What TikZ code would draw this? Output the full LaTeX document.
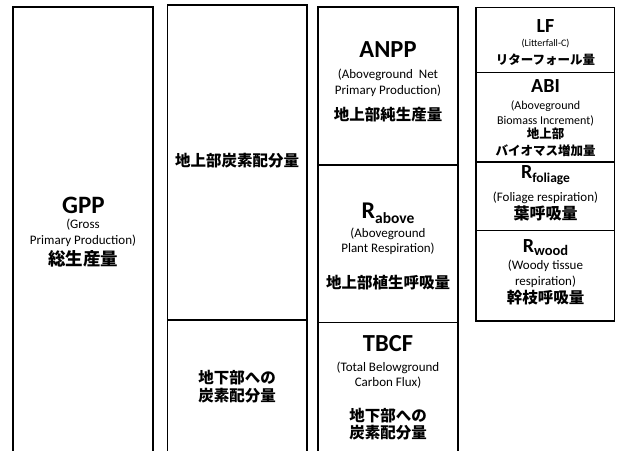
\documentclass[tikz,border=0pt]{standalone}
\usepackage{fontspec}
\setmainfont{Carlito}
\newfontfamily\jp{Noto Sans CJK JP}
\tikzset{
  boxline/.style={line width=1.7pt, draw=black},
  ttl/.style={font=\fontsize{#1}{#1}\selectfont\bfseries, inner sep=0pt, anchor=base},
  eng/.style={font=\fontsize{#1}{15.5}\selectfont, align=center, inner sep=0pt},
  jap/.style={font=\jp\bfseries\fontsize{#1}{17.5}\selectfont, align=center, inner sep=0pt},
}
\begin{document}
\begin{tikzpicture}[x=1pt,y=-1pt]
\useasboundingbox (0,0) rectangle (617,450);
% column 1
\draw[boxline] (12.7,452) |- (153,6.7) -- (153,452);
% column 2
\draw[boxline] (167.5,452) |- (307,4.7) -- (307,452);
\draw[boxline] (167.5,320) -- (307,320);
% column 3
\draw[boxline] (318,452) |- (458,6.7) -- (458,452);
\draw[boxline] (318,165) -- (458,165);
\draw[boxline] (318,322.5) -- (458,322.5);
% column 4
\draw[boxline] (476,7.5) rectangle (614.5,321);
\draw[boxline] (476,72.5) -- (614.5,72.5);
\draw[boxline] (476,162) -- (614.5,162);
\draw[boxline] (476,230.5) -- (614.5,230.5);

% column 1 text
\node[ttl=25] (gpp) at (83.5,213) {GPP};
\node[eng=13] (gppe) at (83,233) {(Gross\\Primary Production)};
\node[jap=17.5] (gppj) at (83,259) {総生産量};

% column 2 text
\node[jap=15.5] (abv) at (237,161) {地上部炭素配分量};
\node[jap=15.5] (blw) at (237,386.5) {地下部への\\炭素配分量};

% column 3 text
\node[ttl=24.5] (anpp) at (388,57.5) {ANPP};
\node[eng=13] (anppe) at (388,83) {(Aboveground\ \ Net\\Primary Production)};
\node[jap=15.5] (anppj) at (388,115) {地上部純生産量};

\node[ttl=24] (rab) at (388,218.5) {R\raisebox{-4.5pt}{\fontsize{15.5}{15.5}\selectfont above}};
\node[eng=13] (rabe) at (388,241.5) {(Aboveground\\Plant Respiration)};
\node[jap=15.5] (rabj) at (388,283) {地上部植生呼吸量};

\node[ttl=24.5] (tbcf) at (388,351.5) {TBCF};
\node[eng=13] (tbcfe) at (388,375) {(Total Belowground\\Carbon Flux)};
\node[jap=15.5] (tbcfj) at (388,424) {地下部への\\炭素配分量};

% column 4 text
\node[ttl=20] (lf) at (545.5,32) {LF};
\node[eng=10] (lfe) at (545.5,43.5) {(Litterfall-C)};
\node[jap=12.5] (lfj) at (545.5,59.5) {リターフォール量};

\node[ttl=20] (abi) at (545.5,92) {ABI};
\node[eng=12] (abie) at (545.5,113.5) {(Aboveground\\Biomass Increment)};
\node[jap=12.5] (abij) at (545.5,142) {地上部\\バイオマス増加量};

\node[ttl=20] (rfo) at (545.5,178) {R\raisebox{-4pt}{\fontsize{13.5}{13.5}\selectfont foliage}};
\node[eng=13] (rfoe) at (545.5,197.5) {(Foliage respiration)};
\node[jap=16] (rfoj) at (545.5,213) {葉呼吸量};

\node[ttl=20] (rwo) at (545.5,252) {R\raisebox{-3.5pt}{\fontsize{14.5}{14.5}\selectfont wood}};
\node[eng=13] (rwoe) at (545.5,274) {(Woody tissue\\respiration)};
\node[jap=15.5] (rwoj) at (545.5,298) {幹枝呼吸量};
\end{tikzpicture}
\end{document}
